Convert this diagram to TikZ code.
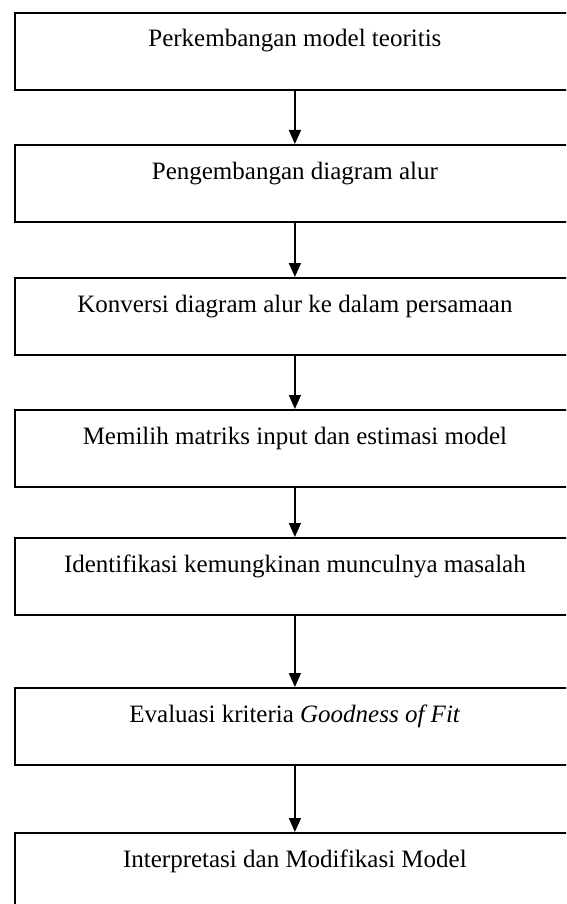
\documentclass[tikz,border=0pt]{standalone}
\usepackage{fontspec}
\setmainfont{Liberation Serif}
\usetikzlibrary{arrows.meta}

\tikzset{
  stepbox/.style={draw=black, line width=1.8pt, rectangle, inner sep=0pt,
    minimum width=560pt, minimum height=77pt, anchor=north west},
  steptext/.style={anchor=base, inner sep=0pt, font=\fontsize{25pt}{28pt}\selectfont},
  flow/.style={line width=1.5pt, -{Triangle[length=14pt,width=12pt]}}
}

\begin{document}
\begin{tikzpicture}[x=1pt,y=-1pt]
  \useasboundingbox (0,0) rectangle (566,904);
  \clip (0,0) rectangle (566,904);

  % boxes of the flow
  \node[stepbox] (b1) at (14,12)  {};
  \node[stepbox] (b2) at (14,144) {};
  \node[stepbox] (b3) at (14,277) {};
  \node[stepbox] (b4) at (14,409) {};
  \node[stepbox] (b5) at (14,537) {};
  \node[stepbox] (b6) at (14,687) {};
  \node[stepbox] (b7) at (14,832) {};

  % step captions, set in the upper part of each box
  \node[steptext] (t1) at ([yshift=-35pt]b1.north) {Perkembangan model teoritis};
  \node[steptext] (t2) at ([yshift=-35pt]b2.north) {Pengembangan diagram alur};
  \node[steptext] (t3) at ([yshift=-35pt]b3.north) {Konversi diagram alur ke dalam persamaan};
  \node[steptext] (t4) at ([yshift=-35pt]b4.north) {Memilih matriks input dan estimasi model};
  \node[steptext] (t5) at ([yshift=-35pt]b5.north) {Identifikasi kemungkinan munculnya masalah};
  \node[steptext] (t6) at ([yshift=-35pt]b6.north) {Evaluasi kriteria \textit{Goodness of Fit}};
  \node[steptext] (t7) at ([yshift=-35pt]b7.north) {Interpretasi dan Modifikasi Model};

  % connectors
  \draw[flow] (b1.south) -- (b2.north);
  \draw[flow] (b2.south) -- (b3.north);
  \draw[flow] (b3.south) -- (b4.north);
  \draw[flow] (b4.south) -- (b5.north);
  \draw[flow] (b5.south) -- (b6.north);
  \draw[flow] (b6.south) -- (b7.north);
\end{tikzpicture}
\end{document}
